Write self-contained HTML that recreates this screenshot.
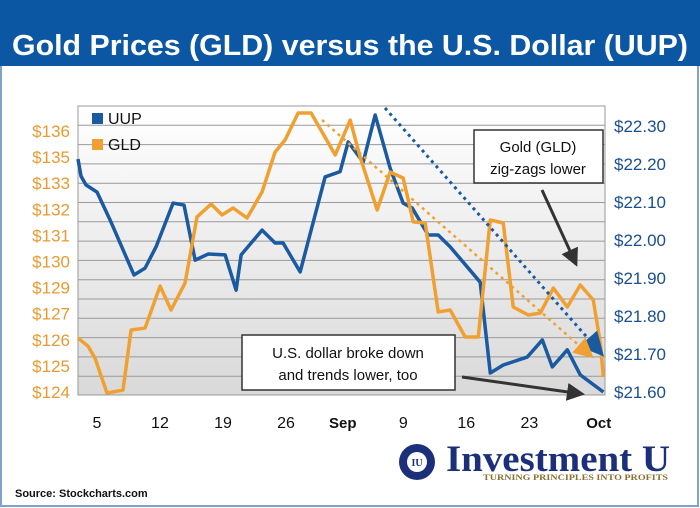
<!DOCTYPE html>
<html><head><meta charset="utf-8"><style>
body{margin:0;background:#fff}
#wrap{position:relative;width:700px;height:508px;overflow:hidden;font-family:"Liberation Sans",sans-serif}
</style></head><body>
<div id="wrap">
<svg id="svg" width="700" height="508" xmlns="http://www.w3.org/2000/svg">
<defs>
<linearGradient id="bg" x1="0" y1="0" x2="0" y2="1"><stop offset="0" stop-color="#ffffff"/><stop offset="1" stop-color="#d9d9d9"/></linearGradient>
<marker id="ab" markerWidth="8" markerHeight="8" refX="6" refY="4" orient="auto"><path d="M0,0 L8,4 L0,8 z" fill="#1a5aa0"/></marker>
<marker id="ao" markerWidth="8" markerHeight="8" refX="6" refY="4" orient="auto"><path d="M0,0 L8,4 L0,8 z" fill="#f0a030"/></marker>
<marker id="ak" markerWidth="6" markerHeight="6" refX="5" refY="3" orient="auto"><path d="M0,0 L6,3 L0,6 z" fill="#333"/></marker>
</defs>
<rect x="1" y="1" width="697" height="505" fill="#fff" stroke="#7fa3cc" stroke-width="2"/>
<rect x="0" y="0" width="700" height="66" fill="#0b57a4"/>
<text x="350" y="55" text-anchor="middle" fill="#fff" font-size="29" font-weight="bold" textLength="676" lengthAdjust="spacingAndGlyphs">Gold Prices (GLD) versus the U.S. Dollar (UUP)</text>
<rect x="78" y="106" width="527" height="289" fill="url(#bg)" stroke="#999"/>
<g id="grid"></g>
<g id="axes"></g>
<g id="series"></g>
<line x1="385" y1="108" x2="600" y2="352" stroke="#1a5aa0" stroke-width="3" stroke-dasharray="3,4" marker-end="url(#ab)"/>
<line x1="322" y1="120" x2="590" y2="355" stroke="#f0a030" stroke-width="2.5" stroke-dasharray="3,4" marker-end="url(#ao)"/>
<rect x="92" y="113" width="11" height="11" fill="#1a5aa0"/>
<text x="108" y="124" font-size="16" fill="#111">UUP</text>
<rect x="92" y="139" width="11" height="11" fill="#f0a030"/>
<text x="108" y="150" font-size="16" fill="#111">GLD</text>
<rect x="474" y="130" width="129" height="53" fill="#fff" stroke="#333" stroke-width="1.5"/>
<text x="538" y="152" text-anchor="middle" font-size="15" fill="#111">Gold (GLD)</text>
<text x="538" y="174" text-anchor="middle" font-size="15" fill="#111">zig-zags lower</text>
<line x1="542" y1="190" x2="576" y2="264" stroke="#333" stroke-width="3" marker-end="url(#ak)"/>
<rect x="242" y="335" width="213" height="55" fill="#fff" stroke="#333" stroke-width="1.5"/>
<text x="348" y="358" text-anchor="middle" font-size="15" fill="#111">U.S. dollar broke down</text>
<text x="348" y="380" text-anchor="middle" font-size="15" fill="#111">and trends lower, too</text>
<line x1="462" y1="377" x2="582" y2="394" stroke="#333" stroke-width="3" marker-end="url(#ak)"/>
<text x="15" y="497" font-size="11" font-weight="bold" fill="#111">Source: Stockcharts.com</text>
<g>
<circle cx="417" cy="462" r="18" fill="#1c2f7a"/>
<circle cx="417" cy="462" r="10" fill="#fff"/>
<text x="417" y="466" text-anchor="middle" font-size="10" font-family="Liberation Serif,serif" font-weight="bold" fill="#1c2f7a">IU</text>
<text x="446" y="471" font-size="37" font-family="Liberation Serif,serif" font-weight="bold" fill="#1c2f7a" textLength="224" lengthAdjust="spacingAndGlyphs">Investment U</text>
<text x="483" y="480" font-size="8" font-family="Liberation Serif,serif" font-weight="bold" fill="#8a7030" textLength="185" lengthAdjust="spacingAndGlyphs">TURNING PRINCIPLES INTO PROFITS</text>
</g>
</svg>
</div>
<script>
const xLabels = ["5","12","19","26","Sep","9","16","23","Oct"];
const xLabelDays = [1.5,6.5,11.5,16.5,21,25.8,30.8,35.8,41.3];
const gldTicks = ["$124","$125","$126","$127","$129","$130","$131","$132","$133","$135","$136"];
const uupTicks = [21.6,21.7,21.8,21.9,22.0,22.1,22.2,22.3];
const uupDays = [0,0.24,0.63,1.51,2.54,4.44,5.32,6.19,7.54,8.41,9.29,10.32,11.67,12.54,12.94,14.6,15.63,16.27,17.62,19.6,20.79,21.43,22.62,23.57,24.76,25.79,26.51,27.78,28.57,29.52,31.9,32.7,33.73,35.63,36.83,37.62,38.81,39.84,41.67];
const uupValues = [22.213,22.168,22.145,22.126,22.053,21.908,21.926,21.982,22.097,22.092,21.947,21.963,21.961,21.868,21.961,22.026,21.992,21.992,21.916,22.166,22.18,22.258,22.205,22.329,22.189,22.097,22.084,22.013,22.013,21.982,21.889,21.65,21.671,21.692,21.737,21.666,21.711,21.645,21.6];
const gldDays = [0,0.79,1.35,2.3,3.57,4.21,5.32,6.51,7.38,8.49,9.44,10.56,11.43,12.3,13.41,14.6,15.63,16.43,17.46,18.49,20.4,21.59,22.38,23.73,24.76,25.79,26.59,27.54,28.57,29.52,30.71,31.75,32.7,33.73,34.52,35.71,36.67,37.7,38.81,39.84,40.87,41.43,41.67];
const gldValues = [126.48,126.11,125.56,123.95,124.09,126.85,126.94,128.87,127.77,129.01,132.05,132.64,132.14,132.46,132.0,133.2,135.03,135.59,136.83,136.83,134.9,136.5,134.8,132.37,134.11,133.84,131.82,131.77,127.68,127.77,126.53,126.53,131.91,131.77,127.91,127.54,127.63,128.78,127.91,128.92,128.23,126.25,124.69];

const NS="http://www.w3.org/2000/svg";
const X0=78,X1=605,Y0=392;
function xS(d){return X0+d*(X1-X0)/41.8;}
function yU(v){return Y0-(v-21.6)*380;}
function yG(v){return Y0-(v-124)*21.75;}
function mk(tag,attrs,parent){const e=document.createElementNS(NS,tag);for(const k in attrs)e.setAttribute(k,attrs[k]);parent.appendChild(e);return e;}
const grid=document.getElementById('grid'),axes=document.getElementById('axes'),series=document.getElementById('series');
for(let i=0;i<15;i++){
  const y=106+i*19.3;
  const l=mk('line',{x1:X0,x2:X1,y1:y,y2:y,stroke:'#9a9a9a','stroke-width':1},grid);
  
  
}
gldTicks.forEach((t,i)=>{
  const el=mk('text',{x:70,y:Y0+6-i*26.1,'text-anchor':'end','font-size':17,fill:'#e89a30'},axes);
  el.textContent=t;
  
  
});
uupTicks.forEach(v=>{
  const el=mk('text',{x:614,y:yU(v)+6,'font-size':17,fill:'#1a4f8f'},axes);
  el.textContent='$'+v.toFixed(2);
  
  
});
xLabels.forEach((t,i)=>{
  const bold=(t==='Sep'||t==='Oct');
  const el=mk('text',{x:xS(xLabelDays[i]),y:428,'text-anchor':'middle','font-size':bold?15:16,'font-weight':bold?'bold':'normal',fill:'#111'},axes);
  el.textContent=t;
  
  
});
const pu=mk('polyline',{points:uupDays.map((d,i)=>xS(d)+','+yU(uupValues[i])).join(' '),fill:'none',stroke:'#1a5aa0','stroke-width':3.5,'stroke-linejoin':'round'},series);


const pg=mk('polyline',{points:gldDays.map((d,i)=>xS(d)+','+yG(gldValues[i])).join(' '),fill:'none',stroke:'#f0a030','stroke-width':3.5,'stroke-linejoin':'round'},series);


</script>
</body></html>
